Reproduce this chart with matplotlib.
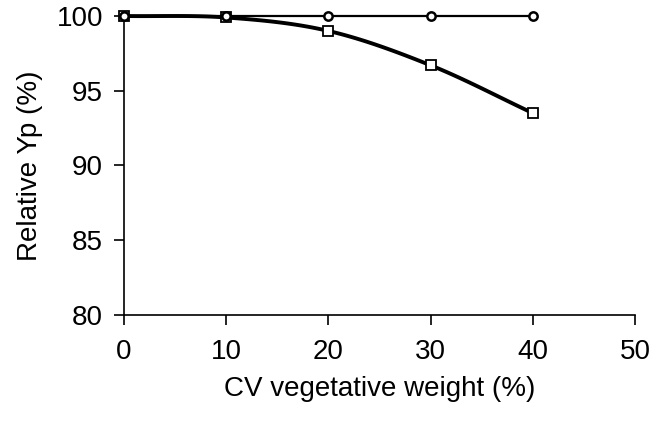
import matplotlib
matplotlib.use('Agg')
import matplotlib.pyplot as plt
import numpy as np

plt.rcParams['font.family'] = ['Liberation Sans', 'DejaVu Sans']

cv = [0, 10, 20, 30, 40]
yp_circle = [100, 100, 100, 100, 100]
yp_square = [100, 99.9, 99.0, 96.7, 93.5]


def smooth(x, y, n=20):
    # catmull-rom style curve, like a smoothed spreadsheet line
    x = np.asarray(x, float)
    y = np.asarray(y, float)
    px = np.concatenate([[2 * x[0] - x[1]], x, [2 * x[-1] - x[-2]]])
    py = np.concatenate([[2 * y[0] - y[1]], y, [2 * y[-1] - y[-2]]])
    xs, ys = [], []
    t = np.linspace(0, 1, n)
    for i in range(1, len(px) - 2):
        for p, out in ((px, xs), (py, ys)):
            p0, p1, p2, p3 = p[i - 1], p[i], p[i + 1], p[i + 2]
            out.extend(0.5 * (2 * p1 + (-p0 + p2) * t
                              + (2 * p0 - 5 * p1 + 4 * p2 - p3) * t ** 2
                              + (-p0 + 3 * p1 - 3 * p2 + p3) * t ** 3))
    return xs, ys


fig = plt.figure(figsize=(6.65, 4.21), dpi=100)
ax = fig.add_axes([0.1865, 0.252, 0.7685, 0.71])

sx, sy = smooth(cv, yp_square)
ax.plot(sx, sy, color='black', lw=2.8, zorder=2, clip_on=False)
ax.plot(cv, yp_square, ls='none', marker='s', ms=7, mfc='white', mec='black', mew=1.3, zorder=3, clip_on=False)
ax.plot(cv, yp_circle, color='black', lw=1.6, marker='o', ms=6, mfc='white', mec='black', mew=1.8, zorder=4, clip_on=False)

ax.set_xlim(0, 50)
ax.set_ylim(80, 100)
ax.set_xticks([0, 10, 20, 30, 40, 50])
ax.set_yticks([80, 85, 90, 95, 100])
ax.spines['top'].set_visible(False)
ax.spines['right'].set_visible(False)
ax.spines['left'].set_linewidth(1.2)
ax.spines['bottom'].set_linewidth(1.2)
ax.tick_params(direction='out', length=7, width=1.2, labelsize=20, pad=8)
ax.tick_params(axis='x', pad=10)
ax.set_xlabel('CV vegetative weight (%)', fontsize=20, labelpad=8)
ax.set_ylabel('Relative Yp (%)', fontsize=20, labelpad=10)

fig.savefig('out.png', dpi=100)
